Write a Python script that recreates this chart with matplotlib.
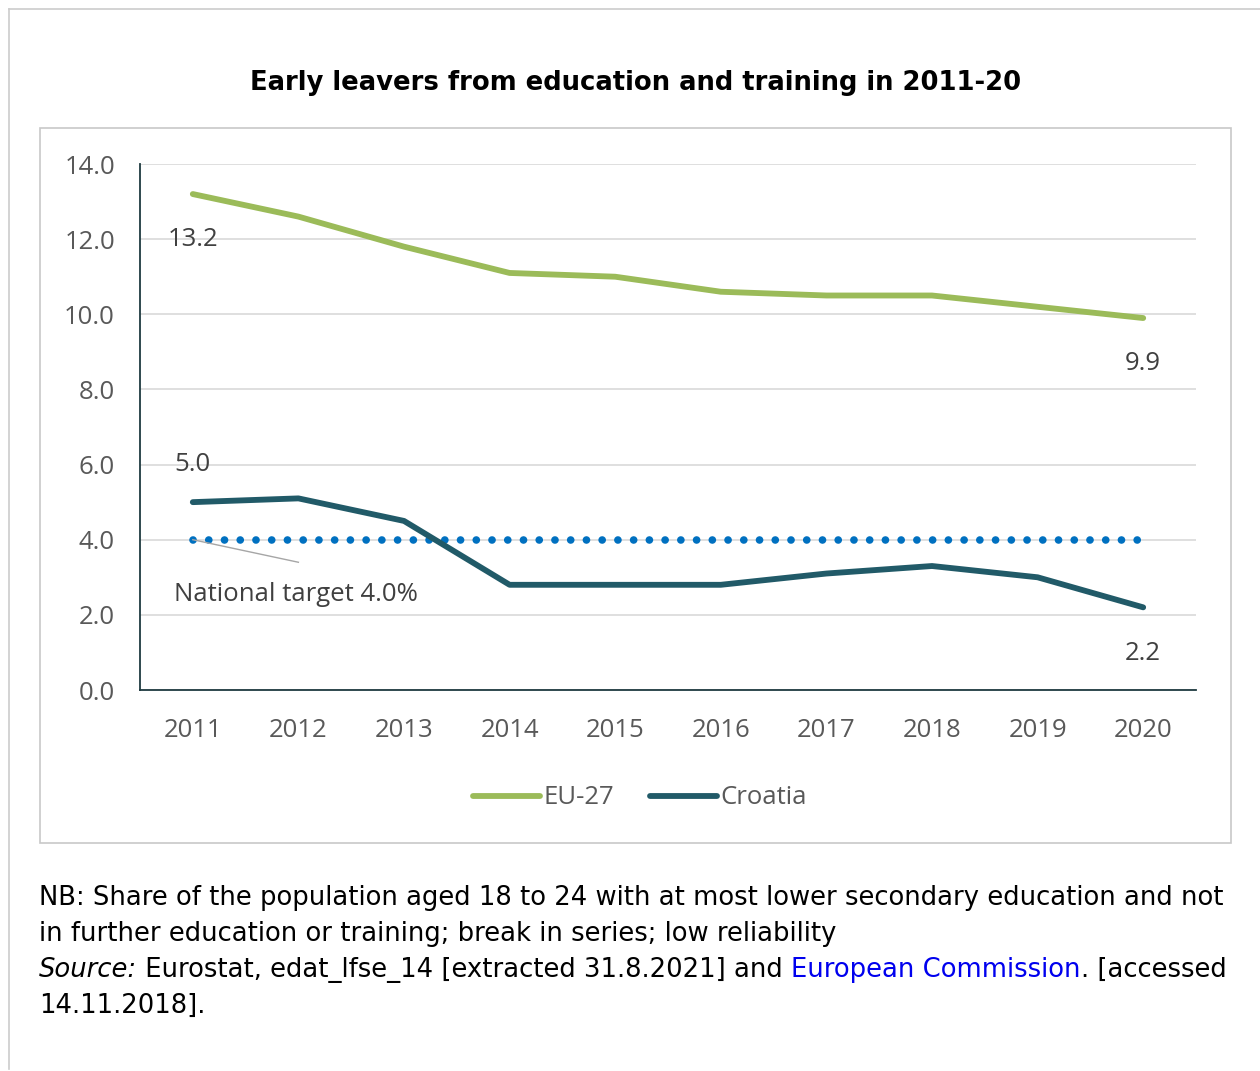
import matplotlib

matplotlib.use("Agg")

import matplotlib.pyplot as plt
from matplotlib.patches import Rectangle
from matplotlib.lines import Line2D

years = ["2011", "2012", "2013", "2014", "2015", "2016", "2017", "2018", "2019", "2020"]
eu27 = [13.2, 12.6, 11.8, 11.1, 11.0, 10.6, 10.5, 10.5, 10.2, 9.9]
croatia = [5.0, 5.1, 4.5, 2.8, 2.8, 2.8, 3.1, 3.3, 3.0, 2.2]
national_target = 4.0
y_ticks = [0, 2, 4, 6, 8, 10, 12, 14]

GREEN = "#9BBB59"
TEAL = "#215A68"
BLUE = "#0070C0"
TEXT_GREY = "#595959"
LABEL_GREY = "#404040"
CHART_FONT = "Open Sans"
CHART_SIZE = 18.5

W, H = 1260, 1071
fig = plt.figure(figsize=(W / 100, H / 100), dpi=100)


def fx(px):
    return px / W


def fy(py):
    return 1 - py / H


# outer frame (left and top edges only) and inner chart box
fig.add_artist(Line2D([fx(8.5), fx(8.5)], [fy(8.5), fy(1069)], color="#cccccc", lw=1.2))
fig.add_artist(Line2D([fx(8.5), 1.0], [fy(8.5), fy(8.5)], color="#cccccc", lw=1.2))
fig.add_artist(Rectangle((fx(40), fy(843)), fx(1231) - fx(40), fy(128) - fy(843),
                         fill=False, edgecolor="#c8c8c8", lw=1.2))

fig.text(fx(636), fy(83), "Early leavers from education and training in 2011-20",
         ha="center", va="center", fontsize=18.6, fontweight="bold", family="DejaVu Sans")

ax = fig.add_axes([fx(140), fy(690), fx(1196) - fx(140), fy(164) - fy(690)])
x = list(range(len(years)))

ax.plot(x, eu27, color=GREEN, lw=4.2, solid_capstyle="round", label="EU-27", zorder=3)
ax.plot(x, croatia, color=TEAL, lw=4.2, solid_capstyle="round", label="Croatia", zorder=3)
ax.plot([x[0], x[-1]], [national_target] * 2, color=BLUE, lw=5.5,
        linestyle=(0, (0.01, 2.05)), dash_capstyle="round", zorder=2)

ax.set_xlim(-0.5, len(years) - 0.5)
ax.set_ylim(0, 14)
ax.set_yticks(y_ticks)
ax.set_yticklabels([f"{v:.1f}" for v in y_ticks])
ax.set_xticks(x)
ax.set_xticklabels(years)
ax.grid(axis="y", color="#d9d9d9", lw=1.2)
ax.set_axisbelow(True)
for side in ["top", "right"]:
    ax.spines[side].set_visible(False)
ax.spines["left"].set_color("#1f3a40")
ax.spines["bottom"].set_color("#1f3a40")
ax.spines["left"].set_linewidth(1.3)
ax.spines["bottom"].set_linewidth(1.3)
ax.tick_params(axis="y", length=0, pad=18, labelsize=CHART_SIZE, labelcolor=TEXT_GREY)
ax.tick_params(axis="x", length=0, pad=20, labelsize=CHART_SIZE, labelcolor=TEXT_GREY)
for lbl in ax.get_xticklabels() + ax.get_yticklabels():
    lbl.set_family(CHART_FONT)

label_kw = dict(ha="center", va="center", fontsize=CHART_SIZE, color=LABEL_GREY, family=CHART_FONT)
ax.text(x[0], eu27[0] - 1.22, f"{eu27[0]:.1f}", **label_kw)
ax.text(x[-1], eu27[-1] - 1.2, f"{eu27[-1]:.1f}", **label_kw)
ax.text(x[0], croatia[0] + 1.0, f"{croatia[0]:.1f}", **label_kw)
ax.text(x[-1], croatia[-1] - 1.22, f"{croatia[-1]:.1f}", **label_kw)

ax.plot([x[0], 1.0], [national_target, national_target - 0.6], color="#a6a6a6", lw=1, zorder=2)
ax.text(-0.18, national_target - 1.47, f"National target {national_target:.1f}%",
        ha="left", va="center", fontsize=CHART_SIZE, color=LABEL_GREY, family=CHART_FONT)

fig.legend(loc="center", bbox_to_anchor=(fx(640), fy(798)), ncol=2, frameon=False,
           handlelength=2.6, handletextpad=0.15, columnspacing=1.4,
           prop={"family": CHART_FONT, "size": CHART_SIZE}, labelcolor=TEXT_GREY)

# footnote
note_kw = dict(fontsize=18.6, family="DejaVu Sans", va="center", ha="left", color="black")
fig.text(fx(39), fy(898), "NB: Share of the population aged 18 to 24 with at most lower "
         "secondary education and not", **note_kw)
fig.text(fx(39), fy(934), "in further education or training; break in series; low reliability",
         **note_kw)
fig.canvas.draw()
renderer = fig.canvas.get_renderer()
parts = [("Source:", "black", "italic"),
         (" Eurostat, edat_lfse_14 [extracted 31.8.2021] and ", "black", "normal"),
         ("European Commission", "#0000ee", "normal"),
         (". [accessed", "black", "normal")]
xpos = fx(39)
for txt, col, style in parts:
    t = fig.text(xpos, fy(970), txt, **{**note_kw, "color": col, "style": style})
    bb = t.get_window_extent(renderer)
    xpos = bb.x1 / W
fig.text(fx(39), fy(1006), "14.11.2018].", **note_kw)

fig.savefig("out.png", dpi=100)
